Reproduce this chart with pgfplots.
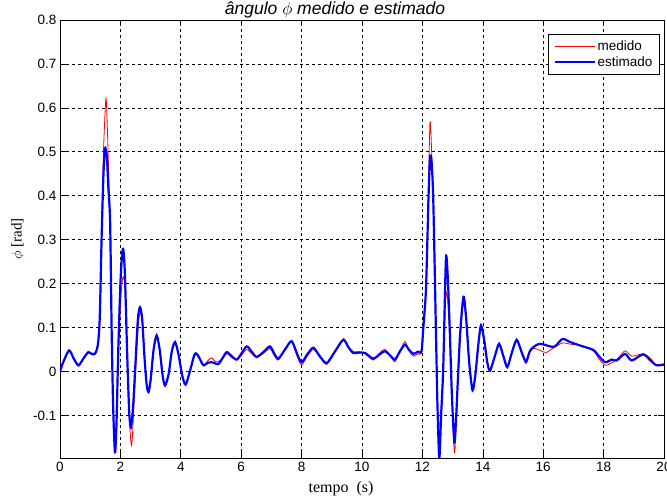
\documentclass[border=0pt]{standalone}
\usepackage{fontspec}
\setmainfont{Liberation Sans}
\newfontfamily\timesfont{Liberation Serif}
\usepackage{pgfplots}
\pgfplotsset{compat=1.18}

\begin{document}
\begin{tikzpicture}
  \useasboundingbox (-60pt,-39pt) rectangle (607pt,458pt);
  \begin{axis}[
      scale only axis,
      width=604pt, height=438pt,
      at={(0pt,0pt)}, anchor=south west,
      xmin=0, xmax=20, ymin=-0.197, ymax=0.8,
      xtick={0,2,...,20},
      ytick={-0.1,0,0.1,0.2,0.3,0.4,0.5,0.6,0.7,0.8},
      tick align=inside,
      major tick length=6pt,
      tick style={black, line width=0.6pt},
      axis line style={black, line width=0.8pt},
      grid=major,
      major grid style={black, line width=0.6pt, dash pattern=on 3pt off 3pt},
      ticklabel style={font=\fontsize{13.5}{15}\selectfont},
      /pgf/number format/assume math mode=true,
      xticklabel style={yshift=-1pt},
      title={\fontsize{17.5}{19}\selectfont\itshape ângulo $\phi$ medido e estimado},
      title style={yshift=-8pt, xshift=-27pt},
      xlabel={\timesfont\fontsize{16}{18}\selectfont tempo\ \ (s)},
      ylabel={\fontsize{15}{17}\selectfont $\phi$ \timesfont[rad]},
      xlabel style={yshift=-2pt, xshift=-21pt},
      ylabel style={yshift=2pt},
      legend cell align=left,
      legend style={at={(rel axis cs:0.993,0.968)}, anchor=north east,
        draw=black, line width=0.6pt, font=\fontsize{13.5}{16}\selectfont,
        row sep=1pt, inner xsep=5pt, inner ysep=4pt},
      legend image code/.code={\draw[#1] (0pt,0pt) -- (40pt,0pt);},
    ]

    % medido
    \addplot[red, line width=0.8pt, smooth, tension=0.45] coordinates {
      (0,0.0) (0.1,0.02) (0.3,0.048) (0.45,0.03) (0.61,0.012) (0.78,0.03)
      (0.94,0.044) (1.05,0.038) (1.16,0.038) (1.22,0.05) (1.27,0.07)
      (1.32,0.13) (1.38,0.33) (1.44,0.50) (1.50,0.60) (1.53,0.62)
      (1.57,0.55) (1.62,0.43) (1.66,0.30) (1.71,0.09) (1.76,-0.08)
      (1.82,-0.17) (1.87,-0.12) (1.93,0.03) (2.0,0.15) (2.06,0.205)
      (2.10,0.215) (2.15,0.19) (2.22,0.05) (2.29,-0.10) (2.37,-0.169)
      (2.44,-0.09) (2.52,0.02) (2.6,0.11) (2.66,0.135) (2.73,0.11)
      (2.80,0.03) (2.87,-0.03) (2.93,-0.045) (3.0,-0.02) (3.1,0.05)
      (3.2,0.078) (3.3,0.05) (3.4,-0.01) (3.48,-0.03) (3.6,-0.005)
      (3.7,0.045) (3.81,0.065) (3.92,0.04) (4.05,-0.01) (4.16,-0.028)
      (4.3,0.0) (4.45,0.036) (4.53,0.038) (4.62,0.028) (4.75,0.014)
      (4.9,0.025) (5.02,0.031) (5.15,0.022) (5.3,0.025) (5.52,0.04)
      (5.68,0.032) (5.85,0.026) (6.0,0.036) (6.18,0.05) (6.35,0.04)
      (6.51,0.032) (6.75,0.042) (6.95,0.052) (7.1,0.036) (7.23,0.026)
      (7.45,0.05) (7.67,0.068) (7.85,0.035) (8.0,0.015) (8.2,0.036)
      (8.39,0.05) (8.6,0.033) (8.83,0.016) (9.1,0.045) (9.38,0.075)
      (9.55,0.057) (9.71,0.045) (9.9,0.045) (10.1,0.040) (10.37,0.026)
      (10.55,0.04) (10.76,0.05) (10.95,0.034) (11.09,0.022) (11.25,0.045)
      (11.42,0.068) (11.55,0.048) (11.7,0.035) (11.85,0.04) (11.97,0.042)
      (12.03,0.09) (12.12,0.19) (12.2,0.42) (12.25,0.565) (12.29,0.53)
      (12.36,0.38) (12.45,0.08) (12.5,-0.08) (12.56,-0.197) (12.62,-0.10)
      (12.69,0.0) (12.75,0.14) (12.80,0.18) (12.85,0.15) (12.91,0.07)
      (12.98,-0.07) (13.06,-0.185) (13.12,-0.12) (13.18,-0.02)
      (13.25,0.075) (13.36,0.16) (13.45,0.11) (13.55,0.02) (13.66,-0.04)
      (13.75,-0.01) (13.85,0.06) (13.94,0.10) (14.05,0.07) (14.15,0.02)
      (14.24,0.0) (14.4,0.035) (14.54,0.06) (14.68,0.033) (14.81,0.008)
      (14.95,0.04) (15.12,0.07) (15.28,0.043) (15.43,0.018) (15.55,0.042)
      (15.67,0.053) (15.89,0.048) (16.1,0.043) (16.3,0.052) (16.64,0.065)
      (16.89,0.062) (17.22,0.06) (17.66,0.047) (17.83,0.03) (18.05,0.014)
      (18.27,0.02) (18.43,0.026) (18.71,0.047) (18.93,0.035) (19.31,0.04)
      (19.55,0.03) (19.75,0.014) (20.0,0.014)
    };
    \addlegendentry{medido}

    % estimado
    \addplot[blue, line width=2.2pt, smooth, tension=0.45] coordinates {
      (0,0.0) (0.1,0.02) (0.3,0.048) (0.45,0.03) (0.61,0.014) (0.78,0.03)
      (0.94,0.044) (1.05,0.04) (1.16,0.041) (1.22,0.05) (1.27,0.07)
      (1.32,0.13) (1.38,0.31) (1.44,0.45) (1.49,0.508) (1.55,0.49)
      (1.6,0.42) (1.66,0.34) (1.71,0.093) (1.76,-0.08) (1.82,-0.184)
      (1.87,-0.12) (1.93,0.05) (2.0,0.2) (2.06,0.27) (2.10,0.276)
      (2.15,0.22) (2.22,0.05) (2.29,-0.09) (2.35,-0.127) (2.42,-0.08)
      (2.50,0.02) (2.58,0.12) (2.65,0.146) (2.72,0.12) (2.80,0.03)
      (2.87,-0.03) (2.93,-0.047) (3.0,-0.02) (3.1,0.05) (3.2,0.082)
      (3.3,0.05) (3.4,-0.01) (3.48,-0.032) (3.6,-0.005) (3.7,0.045)
      (3.81,0.067) (3.92,0.04) (4.05,-0.01) (4.16,-0.03) (4.3,0.0)
      (4.45,0.038) (4.53,0.040) (4.62,0.03) (4.75,0.014) (4.9,0.02)
      (5.02,0.021) (5.24,0.017) (5.38,0.03) (5.52,0.044) (5.68,0.035)
      (5.85,0.027) (6.0,0.04) (6.18,0.057) (6.35,0.045) (6.51,0.033)
      (6.75,0.045) (6.95,0.057) (7.1,0.04) (7.23,0.029) (7.45,0.05)
      (7.67,0.069) (7.85,0.04) (8.0,0.021) (8.2,0.04) (8.39,0.054)
      (8.6,0.035) (8.83,0.019) (9.1,0.045) (9.38,0.072) (9.55,0.055)
      (9.71,0.042) (9.9,0.043) (10.1,0.042) (10.37,0.029) (10.55,0.037)
      (10.76,0.046) (10.95,0.035) (11.09,0.027) (11.25,0.045)
      (11.42,0.061) (11.55,0.05) (11.7,0.040) (11.85,0.045) (11.97,0.046)
      (12.03,0.10) (12.12,0.19) (12.2,0.39) (12.25,0.485) (12.3,0.48)
      (12.36,0.39) (12.45,0.086) (12.5,-0.08) (12.56,-0.197) (12.62,-0.10)
      (12.69,0.01) (12.77,0.24) (12.80,0.26) (12.85,0.20) (12.91,0.086)
      (12.98,-0.06) (13.06,-0.161) (13.12,-0.10) (13.18,-0.01)
      (13.25,0.086) (13.36,0.17) (13.45,0.12) (13.55,0.02) (13.66,-0.043)
      (13.75,-0.01) (13.85,0.06) (13.94,0.105) (14.05,0.07) (14.15,0.02)
      (14.24,0.002) (14.4,0.035) (14.54,0.063) (14.68,0.035) (14.81,0.01)
      (14.95,0.04) (15.12,0.072) (15.28,0.045) (15.43,0.022) (15.55,0.045)
      (15.67,0.055) (15.89,0.063) (16.23,0.057) (16.39,0.057) (16.64,0.074)
      (16.89,0.067) (17.22,0.059) (17.66,0.049) (17.83,0.036) (18.05,0.021)
      (18.27,0.027) (18.43,0.025) (18.71,0.040) (18.93,0.025) (19.31,0.039)
      (19.55,0.025) (19.75,0.014) (20.0,0.016)
    };
    \addlegendentry{estimado}
  \end{axis}
\end{tikzpicture}
\end{document}
